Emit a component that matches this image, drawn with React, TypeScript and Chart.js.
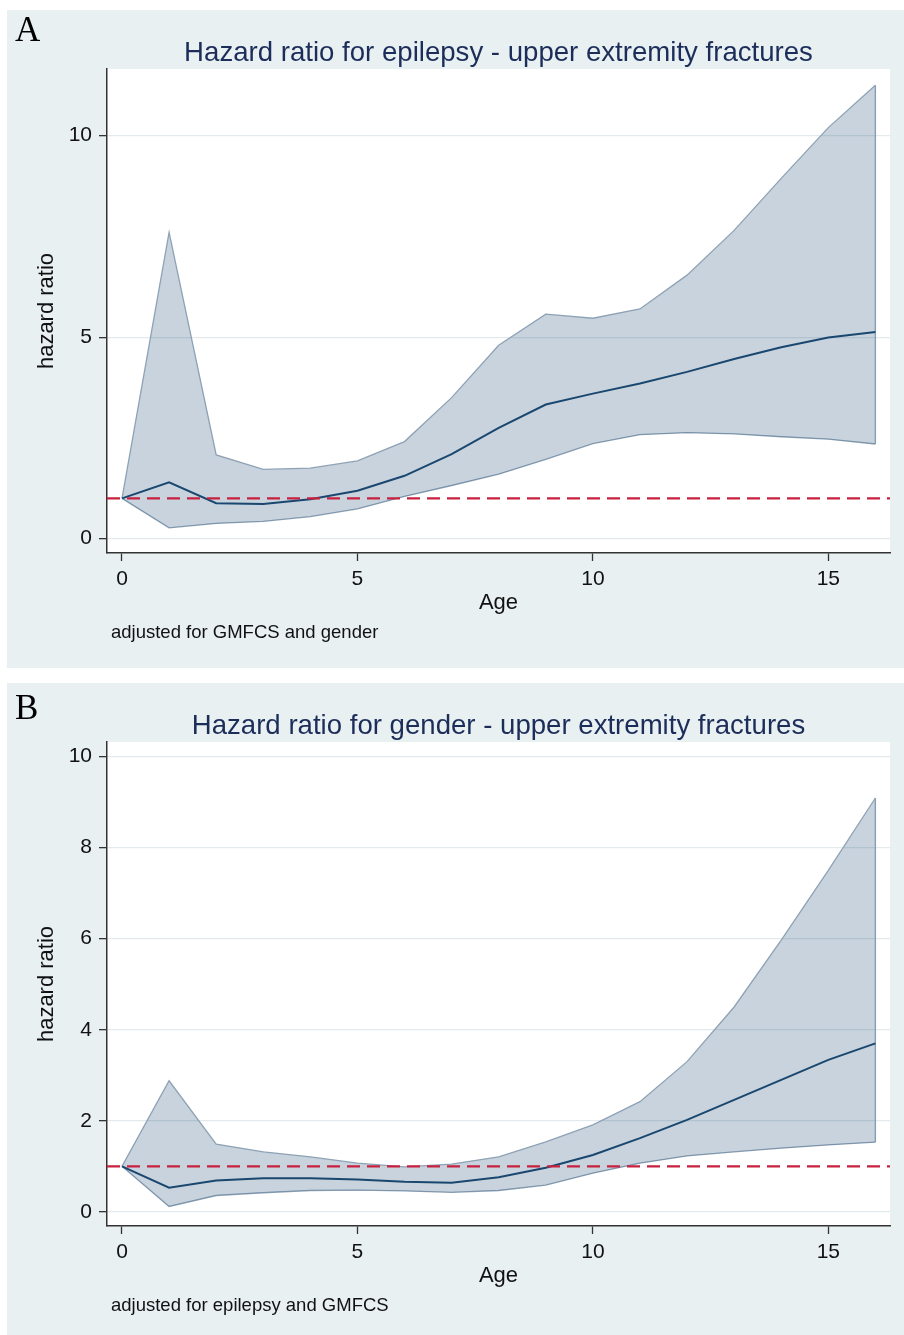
import React, { useEffect, useRef } from "react";
import { Chart, registerables } from "chart.js";

Chart.register(...registerables);

// ---------- data ----------
const ages = [0, 1, 2, 3, 4, 5, 6, 7, 8, 9, 10, 11, 12, 13, 14, 15, 16];
const xTickValues = [0, 5, 10, 15];
const referenceHR = 1;

const upperA = [1.0, 7.6, 2.08, 1.72, 1.75, 1.93, 2.41, 3.5, 4.8, 5.57, 5.47, 5.7, 6.54, 7.65, 8.94, 10.2, 11.25];
const midA = [1.0, 1.4, 0.88, 0.86, 0.98, 1.19, 1.56, 2.1, 2.75, 3.33, 3.6, 3.85, 4.14, 4.46, 4.75, 4.99, 5.13];
const lowerA = [1.0, 0.27, 0.38, 0.43, 0.55, 0.74, 1.05, 1.32, 1.6, 1.97, 2.36, 2.58, 2.63, 2.6, 2.53, 2.47, 2.35];
const yTicksA = [0, 5, 10];

const upperB = [1.0, 2.88, 1.49, 1.32, 1.21, 1.07, 0.99, 1.05, 1.21, 1.54, 1.91, 2.42, 3.3, 4.5, 5.97, 7.5, 9.09];
const midB = [1.0, 0.53, 0.69, 0.74, 0.74, 0.71, 0.66, 0.64, 0.76, 0.97, 1.25, 1.62, 2.02, 2.46, 2.9, 3.34, 3.7];
const lowerB = [1.0, 0.12, 0.36, 0.42, 0.47, 0.48, 0.46, 0.43, 0.47, 0.59, 0.85, 1.07, 1.23, 1.32, 1.4, 1.47, 1.53];
const yTicksB = [0, 2, 4, 6, 8, 10];

const titleA = "Hazard ratio for epilepsy - upper extremity fractures";
const titleB = "Hazard ratio for gender - upper extremity fractures";
const noteA = "adjusted for GMFCS and gender";
const noteB = "adjusted for epilepsy and GMFCS";
const xTitle = "Age";
const yTitle = "hazard ratio";

// ---------- style ----------
const SANS = '"Liberation Sans", Arial, Helvetica, sans-serif';
const SERIF = '"Liberation Serif", "Times New Roman", serif';
const PANEL_BG = "#e9f0f2";
const BAND_FILL = "rgba(26,71,111,0.24)";
const BAND_EDGE = "#8ea2b5";
const MID_COLOR = "#1a476f";
const REF_COLOR = "#c8203f";
const AXIS_COLOR = "#333333";
const GRID_COLOR = "#e3eaee";
const TEXT_COLOR = "#111111";

const X_MIN = -0.3185;
const X_MAX = 16.31;

const PLOT_TOP = 59;
const PLOT_BOTTOM = 543;
const Y_AXIS_W = 100;
const X_AXIS_H = 75;
const PANEL_W = 897;

type PanelProps = {
  top: number;
  height: number;
  letter: string;
  letterTop: number;
  title: string;
  note: string;
  upper: number[];
  mid: number[];
  lower: number[];
  yMin: number;
  yMax: number;
  yTicks: number[];
};

const plotBg = {
  id: "plotBg",
  beforeDraw(c: any) {
    const { ctx, chartArea: a } = c;
    ctx.save();
    ctx.fillStyle = "#ffffff";
    ctx.fillRect(a.left, a.top, a.right - a.left, a.bottom - a.top);
    ctx.restore();
  },
};

function Panel(p: PanelProps) {
  const ref = useRef<HTMLCanvasElement>(null);

  useEffect(() => {
    const pts = (ys: number[]) => ages.map((a, i) => ({ x: a, y: ys[i] }));
    const last = ages.length - 1;
    const chart = new Chart(ref.current as HTMLCanvasElement, {
      type: "line",
      data: {
        datasets: [
          {
            data: pts(p.upper),
            borderColor: BAND_EDGE,
            borderWidth: 1.3,
            backgroundColor: BAND_FILL,
            fill: "+1",
            pointRadius: 0,
            tension: 0,
            order: 3,
          },
          {
            data: pts(p.lower),
            borderColor: BAND_EDGE,
            borderWidth: 1.3,
            fill: false,
            pointRadius: 0,
            tension: 0,
            order: 3,
          },
          {
            data: [
              { x: ages[last], y: p.lower[last] },
              { x: ages[last], y: p.upper[last] },
            ],
            borderColor: BAND_EDGE,
            borderWidth: 1.3,
            fill: false,
            pointRadius: 0,
            order: 3,
          },
          {
            data: pts(p.mid),
            borderColor: MID_COLOR,
            borderWidth: 2,
            fill: false,
            pointRadius: 0,
            tension: 0,
            order: 1,
          },
          {
            data: [
              { x: X_MIN, y: referenceHR },
              { x: X_MAX, y: referenceHR },
            ],
            borderColor: REF_COLOR,
            borderWidth: 2.4,
            borderDash: [13, 7],
            fill: false,
            pointRadius: 0,
            order: 0,
          },
        ],
      } as any,
      options: {
        responsive: false,
        animation: false,
        events: [],
        layout: {
          padding: {
            left: 0,
            top: PLOT_TOP,
            right: PANEL_W - 883,
            bottom: p.height - PLOT_BOTTOM - X_AXIS_H,
          },
        },
        plugins: {
          legend: { display: false },
          tooltip: { enabled: false },
          title: { display: false },
        },
        scales: {
          x: {
            type: "linear",
            min: X_MIN,
            max: X_MAX,
            afterBuildTicks: (s: any) => {
              s.ticks = xTickValues.map((v) => ({ value: v }));
            },
            afterFit: (s: any) => {
              s.height = X_AXIS_H;
            },
            grid: {
              drawOnChartArea: false,
              drawTicks: true,
              tickLength: 8,
              tickColor: AXIS_COLOR,
              tickWidth: 1.3,
            },
            border: { display: true, color: AXIS_COLOR, width: 1.5 },
            ticks: {
              color: TEXT_COLOR,
              font: { family: SANS, size: 21 },
              padding: 6,
              maxRotation: 0,
              autoSkip: false,
            },
            title: {
              display: true,
              text: xTitle,
              color: TEXT_COLOR,
              font: { family: SANS, size: 22 },
              padding: { top: 0, bottom: 12 },
            },
          },
          y: {
            type: "linear",
            min: p.yMin,
            max: p.yMax,
            afterBuildTicks: (s: any) => {
              s.ticks = p.yTicks.map((v) => ({ value: v }));
            },
            afterFit: (s: any) => {
              s.width = Y_AXIS_W;
            },
            grid: {
              color: GRID_COLOR,
              lineWidth: 1.3,
              drawTicks: true,
              tickLength: 8,
              tickColor: AXIS_COLOR,
              tickWidth: 1.3,
            },
            border: { display: true, color: AXIS_COLOR, width: 1.5 },
            ticks: {
              color: TEXT_COLOR,
              font: { family: SANS, size: 21 },
              padding: 7,
            },
            title: {
              display: true,
              text: yTitle,
              color: TEXT_COLOR,
              font: { family: SANS, size: 22 },
              padding: { top: 27, bottom: 0 },
            },
          },
        },
      } as any,
      plugins: [plotBg],
    });
    return () => chart.destroy();
  }, []);

  return (
    <div
      style={{
        position: "absolute",
        left: 7,
        top: p.top,
        width: PANEL_W,
        height: p.height,
        background: PANEL_BG,
        overflow: "hidden",
      }}
    >
      <canvas
        ref={ref}
        width={PANEL_W}
        height={p.height}
        style={{ position: "absolute", left: 0, top: 0, width: PANEL_W, height: p.height }}
      />
      <div
        style={{
          position: "absolute",
          left: 8,
          top: p.letterTop,
          fontFamily: SERIF,
          fontSize: 35,
          lineHeight: "35px",
          color: "#000",
          whiteSpace: "nowrap",
        }}
      >
        {p.letter}
      </div>
      <div
        style={{
          position: "absolute",
          left: Y_AXIS_W,
          width: 883 - Y_AXIS_W,
          top: 27.6,
          textAlign: "center",
          fontFamily: SANS,
          fontSize: 27.6,
          lineHeight: "27.6px",
          color: "#1c2d5a",
          whiteSpace: "nowrap",
        }}
      >
        {p.title}
      </div>
      <div
        style={{
          position: "absolute",
          left: 104,
          top: 612.6,
          fontFamily: SANS,
          fontSize: 18.5,
          lineHeight: "18.5px",
          color: TEXT_COLOR,
          whiteSpace: "nowrap",
        }}
      >
        {p.note}
      </div>
    </div>
  );
}

export default function App() {
  return (
    <div style={{ position: "absolute", left: 0, top: 0, width: 904, height: 1335, background: "#ffffff" }}>
      <Panel
        top={10}
        height={658}
        letter="A"
        letterTop={2.4}
        title={titleA}
        note={noteA}
        upper={upperA}
        mid={midA}
        lower={lowerA}
        yMin={-0.355}
        yMax={11.655}
        yTicks={yTicksA}
      />
      <Panel
        top={683}
        height={652}
        letter="B"
        letterTop={7}
        title={titleB}
        note={noteB}
        upper={upperB}
        mid={midB}
        lower={lowerB}
        yMin={-0.31}
        yMax={10.32}
        yTicks={yTicksB}
      />
    </div>
  );
}
